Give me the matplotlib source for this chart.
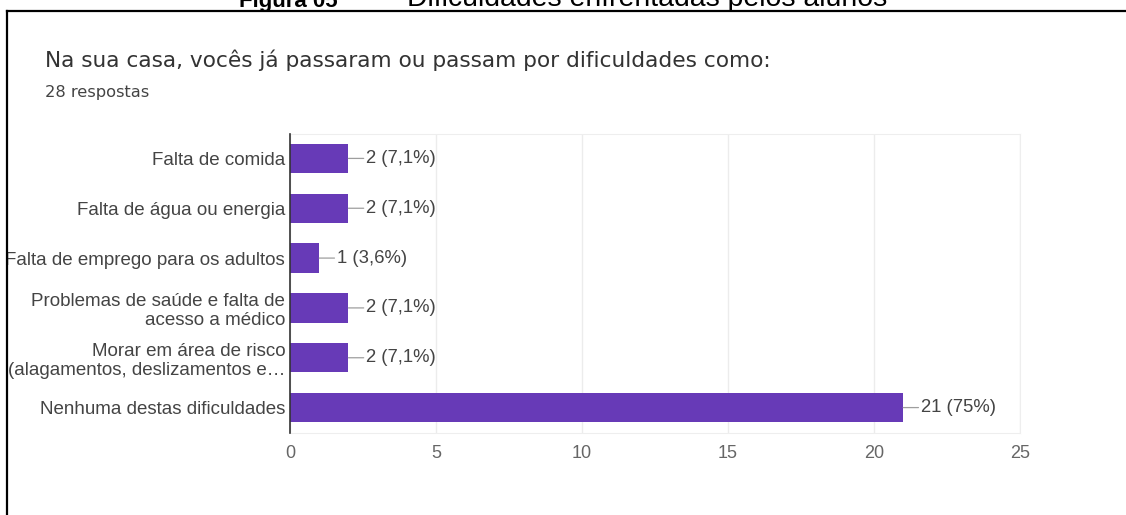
import matplotlib
matplotlib.use("Agg")
import matplotlib.pyplot as plt
from matplotlib.lines import Line2D

# survey answers (Google Forms style bar chart)
categories = [
    "Falta de comida",
    "Falta de água ou energia",
    "Falta de emprego para os adultos",
    "Problemas de saúde e falta de\nacesso a médico",
    "Morar em área de risco\n(alagamentos, deslizamentos e…",
    "Nenhuma destas dificuldades",
]
counts = [2, 2, 1, 2, 2, 21]
percents = ["7,1%", "7,1%", "3,6%", "7,1%", "7,1%", "75%"]
x_ticks = [0, 5, 10, 15, 20, 25]

title = "Na sua casa, vocês já passaram ou passam por dificuldades como:"
subtitle = "28 respostas"

W, H = 1126, 515
fig = plt.figure(figsize=(W / 100, H / 100), dpi=100)
fig.patch.set_facecolor("white")

# axes placed in pixel terms
left, right, top, bottom = 290, 1020, 133.5, 432.5
ax = fig.add_axes([left / W, 1 - bottom / H, (right - left) / W, (bottom - top) / H])

ypos = list(range(len(categories)))
ax.barh(ypos, counts, height=0.59, color="#673ab7", zorder=3)

for y, c, p in zip(ypos, counts, percents):
    ax.annotate(f"{c} ({p})", xy=(c, y), xytext=(13, 0), textcoords="offset points",
                ha="left", va="center", fontsize=13.3, color="#444444",
                family="Liberation Sans",
                arrowprops=dict(arrowstyle="-", color="#9e9e9e", lw=0.9,
                                shrinkA=0, shrinkB=0))

ax.set_xlim(0, 25)
ax.set_ylim(len(categories) - 0.5, -0.5)
ax.set_xticks(x_ticks)
ax.set_xticklabels([str(t) for t in x_ticks])
ax.set_yticks(ypos)
ax.set_yticklabels(categories, linespacing=1.15)

ax.tick_params(axis="y", length=0, pad=3.5, labelsize=13.5, labelcolor="#444444")
ax.tick_params(axis="x", length=0, pad=9, labelsize=13, labelcolor="#666666")
for lab in ax.get_xticklabels() + ax.get_yticklabels():
    lab.set_family("Liberation Sans")

ax.grid(axis="x", color="#ececec", lw=1, zorder=0)
ax.spines["left"].set_color("#333333")
ax.spines["left"].set_linewidth(1.2)
ax.spines["left"].set_zorder(4)
for s in ["top", "bottom", "right"]:
    ax.spines[s].set_color("#eeeeee")

# header texts
fig.text(45 / W, 1 - 67 / H, title, fontsize=15.6, family="DejaVu Sans",
         color="#333333", va="baseline", ha="left")
fig.text(45 / W, 1 - 97 / H, subtitle, fontsize=11.7, family="DejaVu Sans",
         color="#444444", va="baseline", ha="left")

# document caption, cut by the top of the image
cap_y = 1 - 6.5 / H
fig.text(338 / W, cap_y, "Figura 05", fontsize=16, fontweight="bold",
         family="Liberation Sans", color="black", ha="right", va="baseline")
fig.text(372 / W, cap_y, "–", fontsize=20,
         family="Liberation Sans", color="black", ha="center", va="baseline")
fig.text(407 / W, cap_y, "Dificuldades enfrentadas pelos alunos", fontsize=20.4,
         family="Liberation Sans", color="black", ha="left", va="baseline")

# black frame (top and left sides only visible)
fig.add_artist(Line2D([7 / W, 1], [1 - 11 / H, 1 - 11 / H], transform=fig.transFigure,
                      color="black", lw=1.6))
fig.add_artist(Line2D([7 / W, 7 / W], [1 - 11 / H, 0], transform=fig.transFigure,
                      color="black", lw=1.6))

fig.savefig("out.png", dpi=100, facecolor="white")
